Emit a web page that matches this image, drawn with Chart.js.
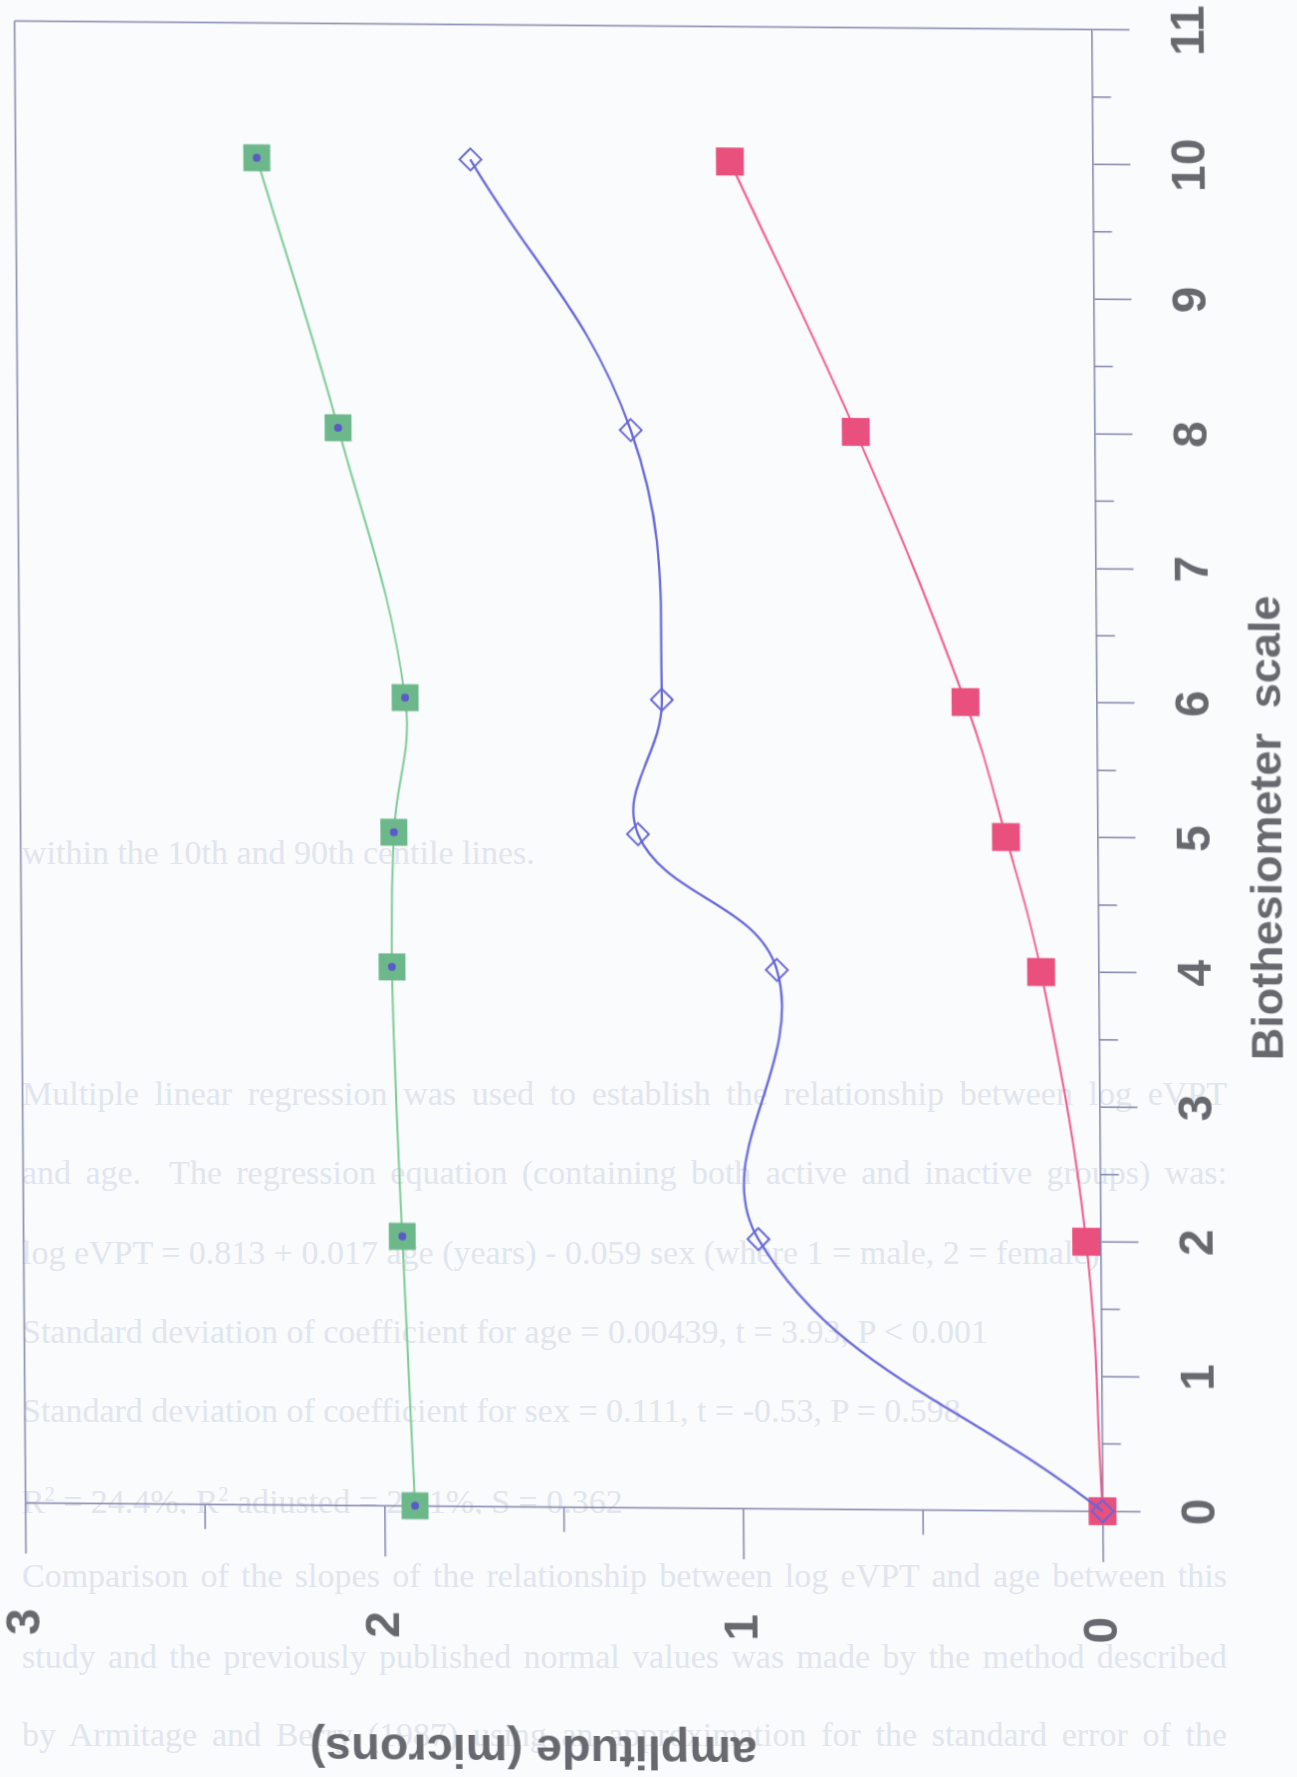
<!DOCTYPE html>
<html>
<head>
<meta charset="utf-8">
<script src="https://cdn.jsdelivr.net/npm/chart.js@4.4.1/dist/chart.umd.min.js"></script>
<style>
  html, body { margin: 0; padding: 0; width: 1297px; height: 1777px; overflow: hidden; background: #fafbfd; }
  .ln { position: absolute; left: 22px; width: 1205px; height: 40px; overflow: hidden;
        font-family: 'Liberation Serif', 'Times New Roman', serif; font-size: 34px; line-height: 40px;
        color: #e1e5ed; white-space: nowrap; }
  .j { white-space: normal; text-align: justify; text-align-last: justify; }
  #plot { position: absolute; left: 0; top: 0; transform-origin: 0 0; }
</style>
</head>
<body>
<!-- text of the printed page lying under the figure -->
<div class="ln" style="top:833px">within the 10th and 90th centile lines.</div>
<div class="ln j" style="top:1074px">Multiple linear regression was used to establish the relationship between log eVPT</div>
<div class="ln j" style="top:1153px">and age.&nbsp; The regression equation (containing both active and inactive groups) was:</div>
<div class="ln" style="top:1233px">log eVPT = 0.813 + 0.017 age (years) - 0.059 sex (where 1 = male, 2 = female)</div>
<div class="ln" style="top:1312px">Standard deviation of coefficient for age = 0.00439, t = 3.93, P &lt; 0.001</div>
<div class="ln" style="top:1391px">Standard deviation of coefficient for sex = 0.111, t = -0.53, P = 0.598</div>
<div class="ln" style="top:1474px">R<sup style="font-size:20px">2</sup> = 24.4%, R<sup style="font-size:20px">2</sup> adjusted = 21.1%, S = 0.362</div>
<div class="ln j" style="top:1556px">Comparison of the slopes of the relationship between log eVPT and age between this</div>
<div class="ln j" style="top:1637px">study and the previously published normal values was made by the method described</div>
<div class="ln j" style="top:1715px">by Armitage and Berry (1987) using an approximation for the standard error of the</div>

<canvas id="plot" width="1812" height="1375" style="width:1812px;height:1375px"></canvas>

<script>
// Biothesiometer setting (x) against measured vibration amplitude (y)
const bioScale  = [0, 2, 4, 5, 6, 8, 10];
const redAmp    = [0, 0.04, 0.16, 0.255, 0.365, 0.665, 1.01];
const greenAmp  = [1.915, 1.945, 1.968, 1.96, 1.926, 2.107, 2.328];
const blueAmp   = [0, 0.953, 0.896, 1.28, 1.211, 1.292, 1.733];

// axis ranges and titles
const bioRange  = { min: 0, max: 11, step: 1 };
const ampRange  = { min: 0, max: 3, step: 1 };
const bioTitle  = 'Biothesiometer  scale         ';
const ampTitle  = '     amplitude (microns)';

const AXIS = '#8084ab';
const TEXT = '#68686f';
const RED = '#e9507d', RED_LINE = '#f2588a';
const GREEN = '#6cb88b', GREEN_LINE = '#7ccb94';
const BLUE = '#6767d6';
const SANS = "'Liberation Sans', Arial, Helvetica, sans-serif";

const pts = ys => bioScale.map((x, i) => ({ x, y: ys[i] }));

// half-unit ticks, shorter than the labelled ones
const minorTicks = {
  id: 'minorTicks',
  afterDraw(chart) {
    const { ctx, chartArea: a, scales: { x, y } } = chart;
    ctx.save();
    ctx.strokeStyle = AXIS;
    ctx.lineWidth = 1.5;
    for (let v = bioRange.min + 0.5; v < bioRange.max; v += 1) {
      const px = x.getPixelForValue(v);
      ctx.beginPath(); ctx.moveTo(px, a.bottom); ctx.lineTo(px, a.bottom + 19); ctx.stroke();
    }
    for (let v = ampRange.min + 0.5; v < ampRange.max; v += 1) {
      const py = y.getPixelForValue(v);
      ctx.beginPath(); ctx.moveTo(a.left, py); ctx.lineTo(a.left - 25, py); ctx.stroke();
    }
    ctx.restore();
  }
};

const canvas = document.getElementById('plot');
const chart = new Chart(canvas, {
  type: 'line',
  data: {
    datasets: [
      { data: pts(blueAmp), borderColor: BLUE, borderWidth: 2.3, tension: 0.4,
        pointStyle: 'rectRot', pointRadius: 11, pointBackgroundColor: 'rgba(0,0,0,0)',
        pointBorderColor: BLUE, pointBorderWidth: 2, order: 0, clip: false },
      { data: pts(greenAmp), showLine: false, pointStyle: 'circle', pointRadius: 4,
        pointBackgroundColor: '#5b5bc8', pointBorderWidth: 0, order: 1, clip: false },
      { data: pts(redAmp), borderColor: RED_LINE, borderWidth: 2, tension: 0.4,
        pointStyle: 'rect', pointRadius: 19.8, pointBackgroundColor: RED,
        pointBorderColor: RED, pointBorderWidth: 0, order: 2, clip: false },
      { data: pts(greenAmp), borderColor: GREEN_LINE, borderWidth: 2, tension: 0.4,
        pointStyle: 'rect', pointRadius: 19.1, pointBackgroundColor: GREEN,
        pointBorderColor: GREEN, pointBorderWidth: 0, order: 3, clip: false }
    ]
  },
  options: {
    responsive: false,
    animation: false,
    devicePixelRatio: 1,
    layout: { padding: { left: 0, right: 30, top: 20, bottom: 10 } },
    elements: { line: { capBezierPoints: false } },
    plugins: { legend: { display: false }, tooltip: { enabled: false } },
    scales: {
      x: {
        type: 'linear', min: bioRange.min, max: bioRange.max,
        ticks: { stepSize: bioRange.step, padding: 33, maxRotation: 0, autoSkip: false,
                 color: TEXT, font: { family: SANS, size: 48, weight: 'bold' } },
        grid: { color: c => (c.tick && c.tick.value === bioRange.max) ? AXIS : 'rgba(0,0,0,0)',
                tickColor: AXIS, tickLength: 38, lineWidth: 1.5, tickWidth: 1.5 },
        border: { display: true, color: AXIS, width: 1.5 },
        title: { display: true, text: bioTitle, color: TEXT,
                 font: { family: SANS, size: 45, weight: 'bold' }, padding: { top: -16, bottom: 0 } }
      },
      y: {
        type: 'linear', min: ampRange.min, max: ampRange.max,
        ticks: { stepSize: ampRange.step, padding: 55, color: TEXT,
                 font: { family: SANS, size: 48, weight: 'bold' } },
        grid: { color: c => (c.tick && c.tick.value === ampRange.max) ? AXIS : 'rgba(0,0,0,0)',
                tickColor: AXIS, tickLength: 51, lineWidth: 1.5, tickWidth: 1.5 },
        border: { display: true, color: AXIS, width: 1.5 },
        title: { display: true, text: ampTitle, color: TEXT,
                 font: { family: SANS, size: 47, weight: 'bold' }, padding: { top: 0, bottom: 26 } }
      }
    }
  },
  plugins: [minorTicks]
});

// The figure is printed turned a quarter turn on the page: map the plot frame
// onto its printed corners (origin, end of the bio axis, end of the amplitude axis, far corner).
const FRAME = { origin: [1101, 1514], bioEnd: [1093, 27], ampEnd: [27, 1500], far: [13, 24] };
(function placePlot() {
  const a = chart.chartArea;
  const Wc = a.right - a.left, Hc = a.bottom - a.top;
  const F = FRAME;
  const ux = [((F.bioEnd[0] - F.origin[0]) + (F.far[0] - F.ampEnd[0])) / 2 / Wc,
              ((F.bioEnd[1] - F.origin[1]) + (F.far[1] - F.ampEnd[1])) / 2 / Wc];
  const uy = [((F.origin[0] - F.ampEnd[0]) + (F.bioEnd[0] - F.far[0])) / 2 / Hc,
              ((F.origin[1] - F.ampEnd[1]) + (F.bioEnd[1] - F.far[1])) / 2 / Hc];
  const pc = [(F.origin[0] + F.bioEnd[0] + F.ampEnd[0] + F.far[0]) / 4,
              (F.origin[1] + F.bioEnd[1] + F.ampEnd[1] + F.far[1]) / 4];
  const cx = (a.left + a.right) / 2, cy = (a.top + a.bottom) / 2;
  const e = pc[0] - ux[0] * cx - uy[0] * cy;
  const f = pc[1] - ux[1] * cx - uy[1] * cy;
  canvas.style.transform = `matrix(${ux[0]}, ${ux[1]}, ${uy[0]}, ${uy[1]}, ${e}, ${f})`;
})();
</script>
</body>
</html>
